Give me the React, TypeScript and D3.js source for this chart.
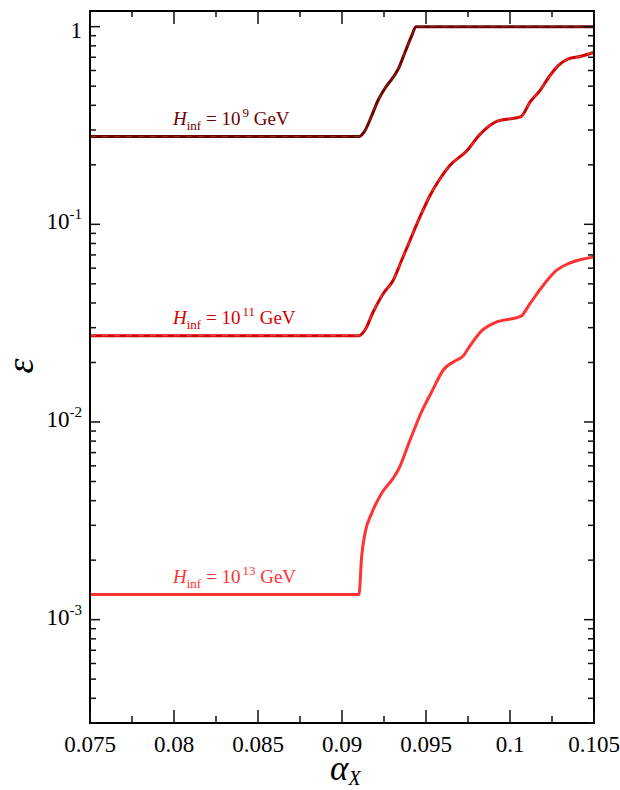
import { useMemo } from "react";
import * as d3 from "d3";

const width = 620;
const height = 790;
const margin = { top: 11, right: 26, bottom: 67, left: 90 };

const alphaDomain: [number, number] = [0.075, 0.105];
const epsDomain: [number, number] = [3e-4, 1.2];

const xTicks = [0.075, 0.08, 0.085, 0.09, 0.095, 0.1, 0.105];
const xTickLabels = ["0.075", "0.08", "0.085", "0.09", "0.095", "0.1", "0.105"];
const xMinorTicks = [0.0775, 0.0825, 0.0875, 0.0925, 0.0975, 0.1025];
const yDecades = [1, 0.1, 0.01, 0.001];
const yExponents = ["", "-1", "-2", "-3"];

// H_inf = 10^9 GeV
const alpha9 = [0.075, 0.0910, 0.09137, 0.09177, 0.09214, 0.09256, 0.09305, 0.09335, 0.09375, 0.09415, 0.0944, 0.105];
const eps9 = [0.278, 0.278, 0.298, 0.355, 0.423, 0.488, 0.555, 0.611, 0.742, 0.90, 1.0, 1.0];

// H_inf = 10^11 GeV
const alpha11 = [
  0.075, 0.0910, 0.09137, 0.09186, 0.09246, 0.09305, 0.09355, 0.09405, 0.09464, 0.09524, 0.09583, 0.09643,
  0.09742, 0.09821, 0.09921, 0.10065, 0.10119, 0.10178, 0.10238, 0.10287, 0.10347, 0.10417, 0.105,
];
const eps11 = [
  0.0273, 0.0273, 0.0292, 0.0361, 0.0447, 0.0521, 0.0658, 0.083, 0.109, 0.14, 0.17, 0.199,
  0.235, 0.285, 0.332, 0.351, 0.415, 0.475, 0.566, 0.635, 0.687, 0.706, 0.742,
];

// H_inf = 10^13 GeV
const alpha13 = [
  0.075, 0.09101, 0.09117, 0.09137, 0.09177, 0.09236, 0.09305, 0.09335, 0.09405, 0.09474, 0.09534, 0.09603,
  0.09683, 0.09722, 0.09752, 0.09831, 0.09911, 0.10065, 0.10119, 0.10198, 0.10278, 0.10347, 0.105,
];
const eps13 = [
  0.00134, 0.00134, 0.00209, 0.00274, 0.00346, 0.00436, 0.0052, 0.00573, 0.00811, 0.01127, 0.01422, 0.01832,
  0.02056, 0.0216, 0.0236, 0.0289, 0.0318, 0.0343, 0.0397, 0.0492, 0.0586, 0.0633, 0.0684,
];

const seriesExponents = ["9", "11", "13"];

const series = [
  { alpha: alpha9, eps: eps9, exp: seriesExponents[0], color: "#6e0000", dash: "#8e2a2a" },
  { alpha: alpha11, eps: eps11, exp: seriesExponents[1], color: "#d40000", dash: "#e85050" },
  { alpha: alpha13, eps: eps13, exp: seriesExponents[2], color: "#ff3333", dash: "#ff3333" },
];

const font = "'Liberation Serif', 'Times New Roman', serif";

const App = () => {
  const x0 = margin.left;
  const x1 = width - margin.right;
  const y0 = margin.top;
  const y1 = height - margin.bottom;

  const { xScale, yScale, paths, yMinor } = useMemo(() => {
    const xScale = d3.scaleLinear().domain(alphaDomain).range([x0, x1]);
    const yScale = d3.scaleLog().domain(epsDomain).range([y1, y0]);
    const line = d3
      .line<[number, number]>()
      .x((d) => xScale(d[0]))
      .y((d) => yScale(d[1]))
      .curve(d3.curveMonotoneX);
    const paths = series.map((s) => line(s.alpha.map((a, i) => [a, s.eps[i]] as [number, number])) ?? "");
    // minor ticks 2..9 of every decade inside the domain
    const yMinor = yScale
      .ticks()
      .filter((t) => t >= epsDomain[0] && t <= epsDomain[1])
      .filter((t) => !yDecades.some((d) => Math.abs(t - d) / d < 1e-6));
    return { xScale, yScale, paths, yMinor };
  }, []);

  return (
    <svg width={width} height={height} style={{ position: "absolute", left: 0, top: 0, background: "#fff" }}>
      {/* curves */}
      <g fill="none" strokeLinejoin="round">
        {series.map((s, i) => (
          <g key={i}>
            <path d={paths[i]} stroke={s.color} strokeWidth={3} />
            {i < 2 && <path d={paths[i]} stroke={s.dash} strokeWidth={1} strokeDasharray="6 6" />}
          </g>
        ))}
      </g>

      {/* curve labels */}
      {series.map((s, i) => (
        <text
          key={i}
          x={xScale(alphaDomain[0]) + 83}
          y={yScale(s.eps[0]) - 12}
          fill={s.color}
          fontFamily={font}
          fontSize={19}
        >
          <tspan fontStyle="italic">H</tspan>
          <tspan fontSize={13} dy={5}>
            inf
          </tspan>
          <tspan dy={-5}> = 10</tspan>
          <tspan fontSize={13} dy={-8} dx={2}>
            {s.exp}
          </tspan>
          <tspan dy={8}> GeV</tspan>
        </text>
      ))}

      {/* frame */}
      <rect x={x0} y={y0} width={x1 - x0} height={y1 - y0} fill="none" stroke="#000" strokeWidth={2} />

      {/* ticks */}
      <g stroke="#111" strokeWidth={1.5}>
        {xTicks.map((t, i) => (
          <g key={`xm${i}`}>
            <line x1={xScale(t)} x2={xScale(t)} y1={y1} y2={y1 - 13} />
            <line x1={xScale(t)} x2={xScale(t)} y1={y0} y2={y0 + 13} />
          </g>
        ))}
        {xMinorTicks.map((t, i) => (
          <g key={`xn${i}`}>
            <line x1={xScale(t)} x2={xScale(t)} y1={y1} y2={y1 - 7} />
            <line x1={xScale(t)} x2={xScale(t)} y1={y0} y2={y0 + 6} />
          </g>
        ))}
        {yDecades.map((t, i) => (
          <g key={`ym${i}`}>
            <line x1={x0} x2={x0 + 10} y1={yScale(t)} y2={yScale(t)} />
            <line x1={x1} x2={x1 - 10} y1={yScale(t)} y2={yScale(t)} />
          </g>
        ))}
        {yMinor.map((t, i) => (
          <g key={`yn${i}`}>
            <line x1={x0} x2={x0 + 6} y1={yScale(t)} y2={yScale(t)} />
            <line x1={x1} x2={x1 - 6} y1={yScale(t)} y2={yScale(t)} />
          </g>
        ))}
      </g>

      {/* x tick labels */}
      <g fontFamily={font} fontSize={23} fill="#000" textAnchor="middle">
        {xTicks.map((t, i) => (
          <text key={i} x={xScale(t)} y={752}>
            {xTickLabels[i]}
          </text>
        ))}
      </g>

      {/* y tick labels */}
      <g fontFamily={font} fill="#000" textAnchor="end">
        {yDecades.map((t, i) =>
          yExponents[i] === "" ? (
            <text key={i} x={x0 - 8} y={yScale(t) + 11} fontSize={23}>
              1
            </text>
          ) : (
            <text key={i} x={x0 - 8} y={yScale(t) + 5} fontSize={23}>
              10
              <tspan fontSize={15} dy={-10}>
                {yExponents[i]}
              </tspan>
            </text>
          )
        )}
      </g>

      {/* axis titles */}
      <text
        transform={`translate(33, ${(y0 + y1) / 2 - 1}) rotate(-90)`}
        fontFamily={font}
        fontStyle="italic"
        fontSize={38}
        textAnchor="middle"
      >
        ε
      </text>
      <text x={(x0 + x1) / 2 - 12} y={780} fontFamily={font} fontStyle="italic" fontSize={35}>
        α
        <tspan fontSize={20} dy={5}>
          X
        </tspan>
      </text>
    </svg>
  );
};

export default App;
